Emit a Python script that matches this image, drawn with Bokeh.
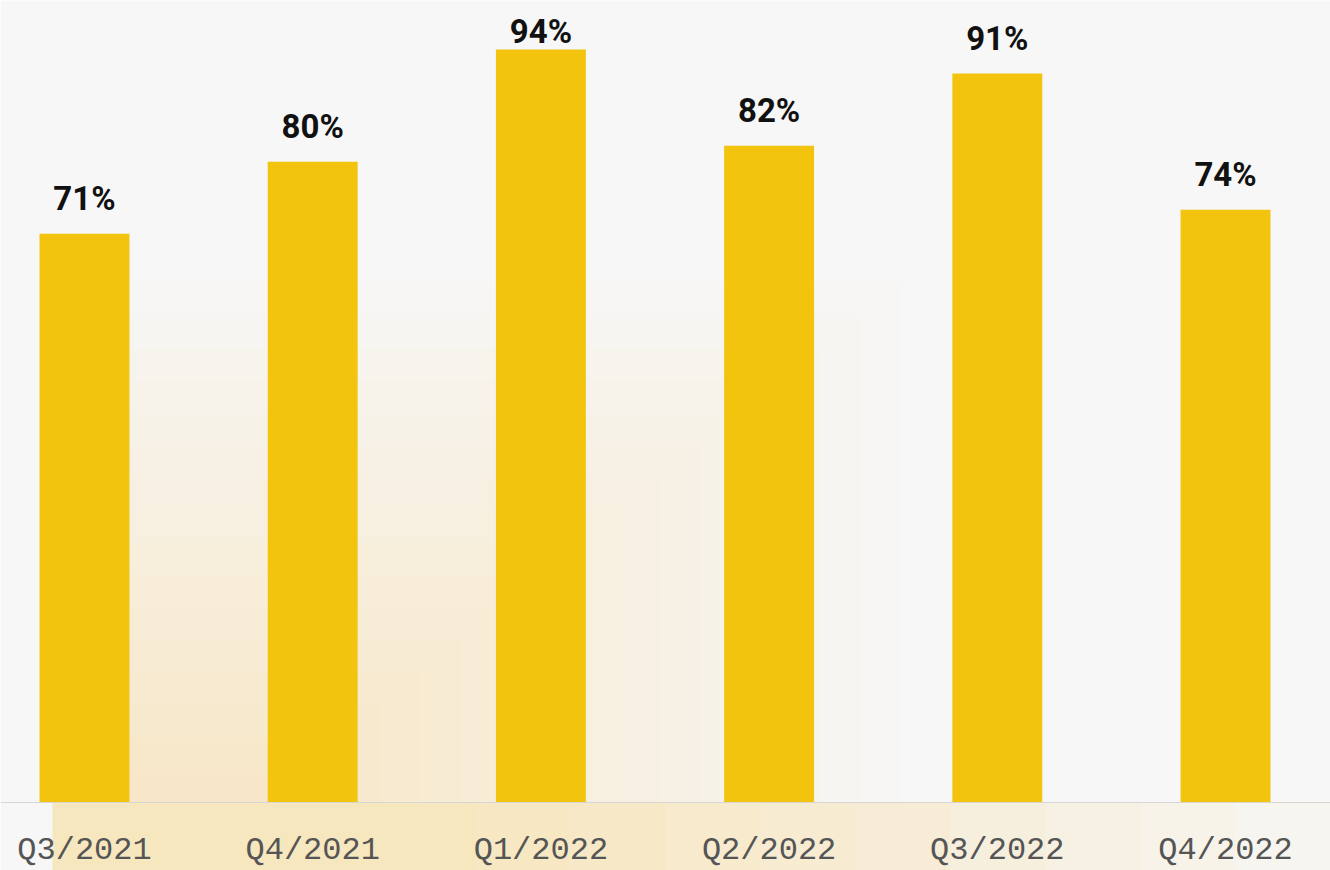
from bokeh.plotting import figure
from bokeh.models import ColumnDataSource, Span, BoxAnnotation, Range1d
from bokeh.core.properties import value
from bokeh.embed import file_html
from bokeh.resources import INLINE

categories = ["Q3/2021", "Q4/2021", "Q1/2022", "Q2/2022", "Q3/2022", "Q4/2022"]
values = [71, 80, 94, 82, 91, 74]
value_labels = ["71%", "80%", "94%", "82%", "91%", "74%"]

W, H = 1330, 870
Y_MIN, Y_MAX = -8.49, 100.12
PX_PER_UNIT = H / (Y_MAX - Y_MIN)
LABEL_GAP_PX = 35          # distance between bar top and label anchor
LABEL_TOP_PAD_PX = 31      # label anchor may not come closer to the top than this

positions = list(range(len(categories)))
label_y = [min(v + LABEL_GAP_PX / PX_PER_UNIT, Y_MAX - LABEL_TOP_PAD_PX / PX_PER_UNIT)
           for v in values]
src = ColumnDataSource(dict(x=positions, top=values, cat=categories,
                            lab=value_labels, ly=label_y))

BG = "#f7f7f7"
p = figure(width=W, height=H, output_backend="svg", toolbar_location=None,
           x_range=Range1d(-0.368, 5.460), y_range=Range1d(Y_MIN, Y_MAX),
           min_border=0, background_fill_color=BG, border_fill_color=BG,
           outline_line_color=None)
p.xaxis.visible = False
p.yaxis.visible = False
p.grid.visible = False

# soft warm glow from the lower left (decoration only; screen units, y from bottom)
glow = "#f9dc6e"
base = 68  # baseline height above the bottom edge, px
boxes = []
N = 16
for k in range(N):
    f = 1 - k / N
    boxes.append((40, 260 + 640 * f, base + 520 * f, base, 0.018))
for k in range(10):
    f = 1 - k / 10
    boxes.append((52, 380 + 950 * f, base, 0, 0.05))
for (l, r, t, b, a) in boxes:
    p.add_layout(BoxAnnotation(left=l, right=r, top=t, bottom=b,
                               left_units="screen", right_units="screen",
                               top_units="screen", bottom_units="screen",
                               fill_color=glow, fill_alpha=a, line_color=None,
                               level="underlay"))

p.add_layout(Span(location=0, dimension="width", line_color="#d6d6d6", line_width=1))

p.vbar(x="x", top="top", bottom=0, width=0.394, source=src,
       fill_color="#F2C40E", line_color=None)

p.text(x="x", y="ly", text="lab", source=src,
       text_align="center", text_baseline="alphabetic",
       text_font=value("Roboto"), text_font_style="bold",
       text_font_size="33px", text_color="#111111")

p.text(x="x", y=0, text="cat", source=src, y_offset=48,
       text_align="center", text_baseline="alphabetic",
       text_font=value("Liberation Mono"), text_font_size="32px",
       text_color="#555555")

open("out.html", "w").write(file_html(p, INLINE))
